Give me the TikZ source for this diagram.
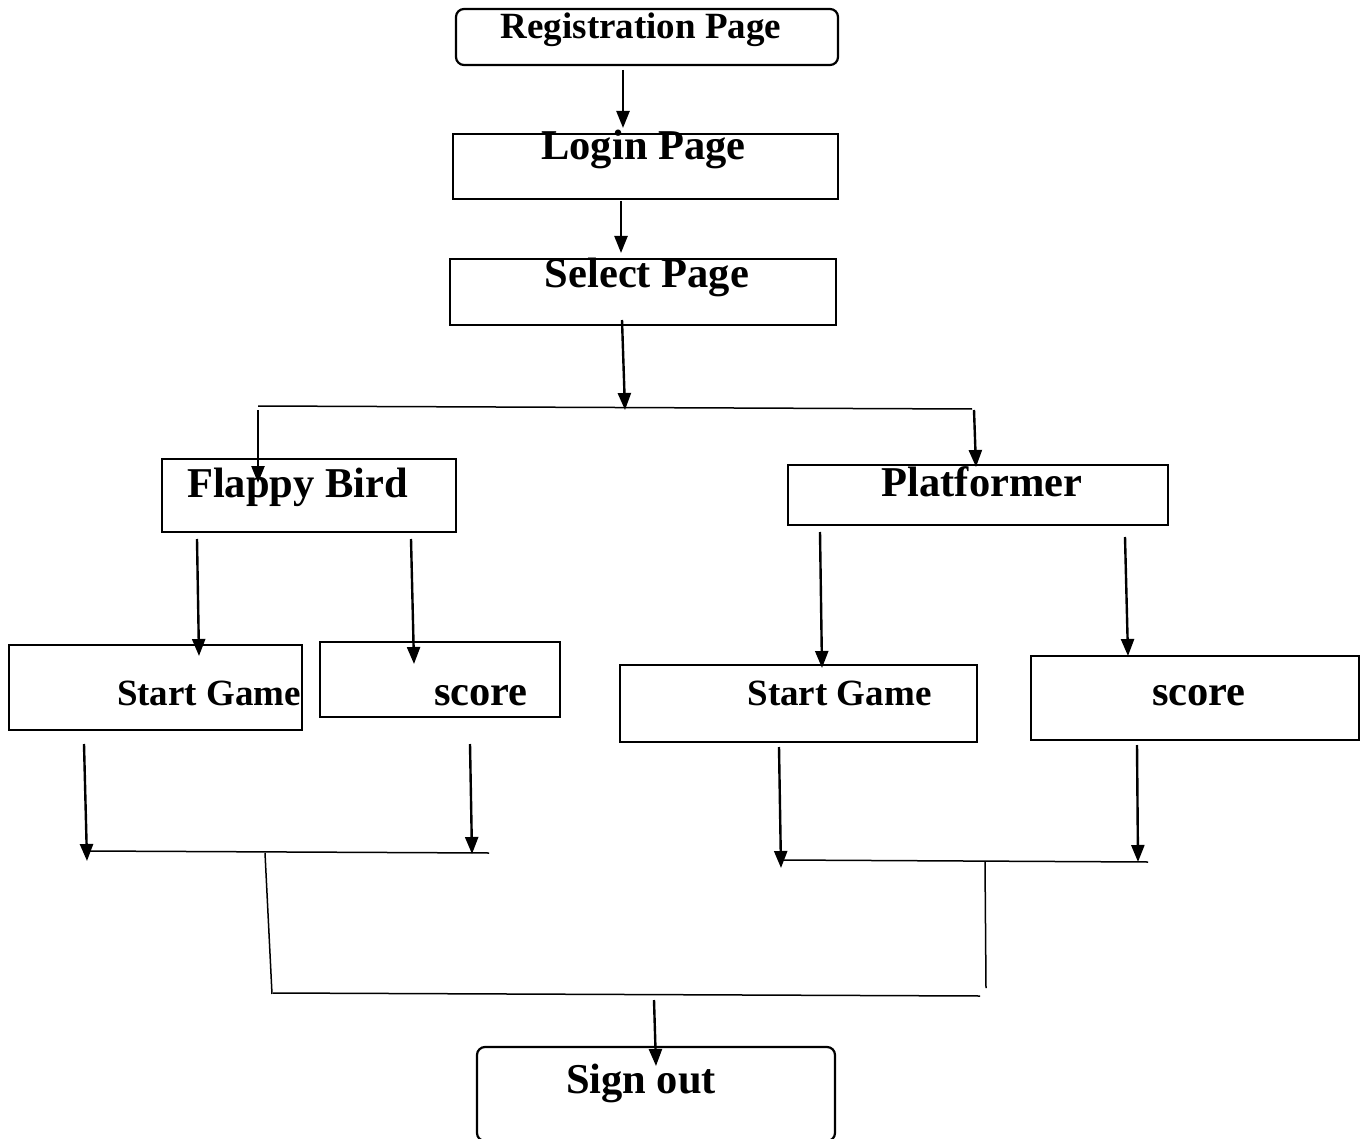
\documentclass[tikz,border=0pt]{standalone}
\usepackage{fontspec}
\setmainfont{Liberation Serif}
\usetikzlibrary{arrows.meta}
\begin{document}
\begin{tikzpicture}[x=1pt,y=-1pt,
  box/.style={draw,line width=2.2pt,inner sep=0pt,outer sep=0pt},
  rbox/.style={box,rounded corners=8pt},
  big/.style={font=\fontsize{42.5}{50}\selectfont\bfseries,inner sep=0pt,anchor=base},
  small/.style={font=\fontsize{37}{44}\selectfont\bfseries,inner sep=0pt,anchor=base},
  arr/.style={line width=2.4pt,-{Triangle[length=17pt,width=13pt]}},
  thin/.style={line width=1.5pt}]
\useasboundingbox[fill=white] (0,0) rectangle (1362,1139);
% boxes
\node[rbox,minimum width=382,minimum height=56] (reg) at (647,37) {};
\node[box,minimum width=385,minimum height=65] (login) at (645.5,166.5) {};
\node[box,minimum width=386,minimum height=66] (select) at (643,292) {};
\node[box,minimum width=294,minimum height=73] (flappy) at (309,495.5) {};
\node[box,minimum width=380,minimum height=60] (plat) at (978,495) {};
\node[box,minimum width=293,minimum height=85] (startl) at (155.5,687.5) {};
\node[box,minimum width=240,minimum height=75] (scorel) at (440,679.5) {};
\node[box,minimum width=357,minimum height=77] (startr) at (798.5,703.5) {};
\node[box,minimum width=328,minimum height=84] (scorer) at (1195,698) {};
\node[rbox,minimum width=358,minimum height=94] (signout) at (656,1094) {};
% texts
\node[small] (regt) at (641,39) {Registration Page};
\node[big] (logint) at (643.5,160) {Login Page};
\node[big] (selectt) at (647,288) {Select Page};
\node[big] (flappyt) at (297.5,497) {Flappy Bird};
\node[big] (platt) at (982,496) {Platformer};
\node[small] (startlt) at (209,705) {Start Game};
\node[big] (scorelt) at (481,705) {score};
\node[small] (startrt) at (839.5,705) {Start Game};
\node[big] (scorert) at (1199,705) {score};
\node[big] (signoutt) at (641,1093) {Sign out};
% connector points
\coordinate (r1) at (623,70);   \coordinate (r2) at (623,128);
\coordinate (l1) at (621,201);  \coordinate (l2) at (621,253);
\coordinate (s1) at (622,320);  \coordinate (s2) at (625,410);
\coordinate (bl) at (258,406);  \coordinate (br) at (972,409);
\coordinate (f1) at (258,410);  \coordinate (f2) at (258,483);
\coordinate (p1) at (974,410);  \coordinate (p2) at (976,467);
\coordinate (fa1) at (197,539); \coordinate (fa2) at (199,656);
\coordinate (fb1) at (411,539); \coordinate (fb2) at (414,664);
\coordinate (pa1) at (820,532); \coordinate (pa2) at (822,668);
\coordinate (pb1) at (1125,537);\coordinate (pb2) at (1128,656);
\coordinate (la1) at (84,744);  \coordinate (la2) at (87,861);
\coordinate (lb1) at (470,744); \coordinate (lb2) at (472,854);
\coordinate (ml1) at (87,851);  \coordinate (ml2) at (489,853);
\coordinate (vl1) at (265,853); \coordinate (vl2) at (272,994);
\coordinate (ra1) at (779,747); \coordinate (ra2) at (781,868);
\coordinate (rb1) at (1137,745);\coordinate (rb2) at (1138,862);
\coordinate (mr1) at (781,860); \coordinate (mr2) at (1148,862);
\coordinate (vr1) at (985,862); \coordinate (vr2) at (986,988);
\coordinate (bb1) at (273,993); \coordinate (bb2) at (980,996);
\coordinate (so1) at (654,1000);\coordinate (so2) at (656,1066);
% connectors
\draw[arr] (r1) -- (r2);
\draw[arr] (l1) -- (l2);
\draw[arr] (s1) -- (s2);
\draw[thin] (bl) -- (br);
\draw[arr] (f1) -- (f2);
\draw[arr] (p1) -- (p2);
\draw[arr] (fa1) -- (fa2);
\draw[arr] (fb1) -- (fb2);
\draw[arr] (pa1) -- (pa2);
\draw[arr] (pb1) -- (pb2);
\draw[arr] (la1) -- (la2);
\draw[arr] (lb1) -- (lb2);
\draw[thin] (ml1) -- (ml2);
\draw[thin] (vl1) -- (vl2);
\draw[arr] (ra1) -- (ra2);
\draw[arr] (rb1) -- (rb2);
\draw[thin] (mr1) -- (mr2);
\draw[thin] (vr1) -- (vr2);
\draw[thin] (bb1) -- (bb2);
\draw[arr] (so1) -- (so2);
\end{tikzpicture}
\end{document}
